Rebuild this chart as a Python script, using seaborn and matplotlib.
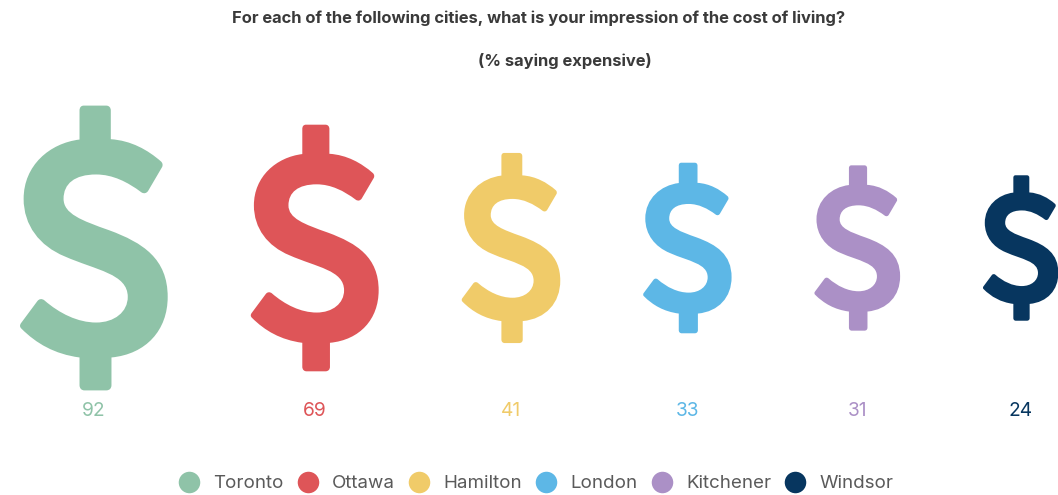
import matplotlib
matplotlib.use('Agg')
import matplotlib.pyplot as plt
import numpy as np
import pandas as pd
import seaborn as sns
from matplotlib.lines import Line2D
from matplotlib.path import Path

cities = ['Toronto', 'Ottawa', 'Hamilton', 'London', 'Kitchener', 'Windsor']
values = [92, 69, 41, 33, 31, 24]
colors = ['#8FC3A8', '#DE5558', '#F0CB69', '#5DB7E6', '#AB90C6', '#07365F']
title_lines = ['For each of the following cities, what is your impression of the cost of living?',
               '(% saying expensive)']

FONT = 'Inter'


def dollar_marker():
    # outline of the dollar sign, traced in its own marker units
    M, L, C, Z = Path.MOVETO, Path.LINETO, Path.CURVE4, Path.CLOSEPOLY
    segs = [
        (M, [(240, 45)]),
        (C, [(240, 36), (244, 30), (253, 30)]),
        (L, [(320, 30)]),
        (C, [(329, 30), (334, 36), (334, 45)]),
        (L, [(334, 131)]),
        (C, [(395, 135), (445, 163), (485, 198)]),
        (C, [(490, 203), (491, 209), (488, 215)]),
        (L, [(447, 285)]),
        (C, [(442, 294), (433, 296), (425, 290)]),
        (C, [(385, 260), (340, 237), (290, 237)]),
        (C, [(225, 237), (192, 265), (192, 310)]),
        (C, [(192, 355), (245, 375), (330, 405)]),
        (C, [(430, 442), (505, 490), (505, 605)]),
        (C, [(505, 705), (440, 777), (336, 787)]),
        (L, [(336, 870)]),
        (C, [(336, 880), (330, 886), (320, 886)]),
        (L, [(255, 886)]),
        (C, [(246, 886), (240, 880), (240, 870)]),
        (L, [(240, 787)]),
        (C, [(165, 777), (110, 745), (65, 700)]),
        (C, [(60, 695), (60, 690), (64, 684)]),
        (L, [(113, 618)]),
        (C, [(119, 610), (127, 610), (134, 615)]),
        (C, [(180, 655), (235, 682), (290, 682)]),
        (C, [(345, 682), (385, 650), (385, 605)]),
        (C, [(385, 535), (290, 525), (195, 483)]),
        (C, [(120, 452), (72, 390), (72, 310)]),
        (C, [(72, 210), (150, 143), (240, 132)]),
        (L, [(240, 45)]),
    ]
    verts, codes = [], []
    for code, pts in segs:
        verts.extend(pts)
        codes.extend([code] * len(pts))
    verts.append((240, 45))
    codes.append(Z)
    verts = np.array(verts, dtype=float)
    verts = (verts - [285, 458]) * [1, -1]
    return Path(verts, codes)


sns.set_theme(style='white')
plt.rcParams['font.family'] = [FONT, 'DejaVu Sans']

# glyphs are packed edge to edge with a constant gap, width goes with sqrt(value)
roots = np.sqrt(values)
widths = 15.45 * roots
centres = 94.5 + np.concatenate([[0], np.cumsum((widths[:-1] + widths[1:]) / 2 + 82.5)])

df = pd.DataFrame({'city': cities, 'value': values, 'x': centres, 'y': 248.0})

fig, ax = plt.subplots(figsize=(10.58, 4.95), dpi=100)
fig.subplots_adjust(left=0, right=1, top=1, bottom=0)

# marker area goes with the value
k = 457
sns.scatterplot(data=df, x='x', y='y', hue='city', palette=colors, size='value',
                sizes=(min(values) * k, max(values) * k), size_norm=(min(values), max(values)),
                marker=dollar_marker(), linewidth=0, edgecolor='none', legend=False, ax=ax)
ax.set_xlim(0, 1058)
ax.set_ylim(495, 0)
ax.axis('off')

for x, v, c in zip(centres, values, colors):
    ax.text(x - 0.5, 411, str(v), color=c, fontsize=13.8, ha='center', va='center')

ax.text(539, 18, title_lines[0], color='#3A3A3A', fontsize=11.9, fontweight='bold', ha='center', va='center')
ax.text(564.5, 61, title_lines[1], color='#3A3A3A', fontsize=11.9, fontweight='bold', ha='center', va='center')

handles = [Line2D([], [], marker='o', linestyle='none', markersize=15.5, color=c, markeredgewidth=0)
           for c in colors]
fig.legend(handles, cities, loc='center', bbox_to_anchor=(532 / 1058, 1 - 483.5 / 495), ncol=6, frameon=False,
           fontsize=13.5, labelcolor='#5A5A5A', handletextpad=0.3, columnspacing=0.28)

plt.savefig('out.png', dpi=100)
